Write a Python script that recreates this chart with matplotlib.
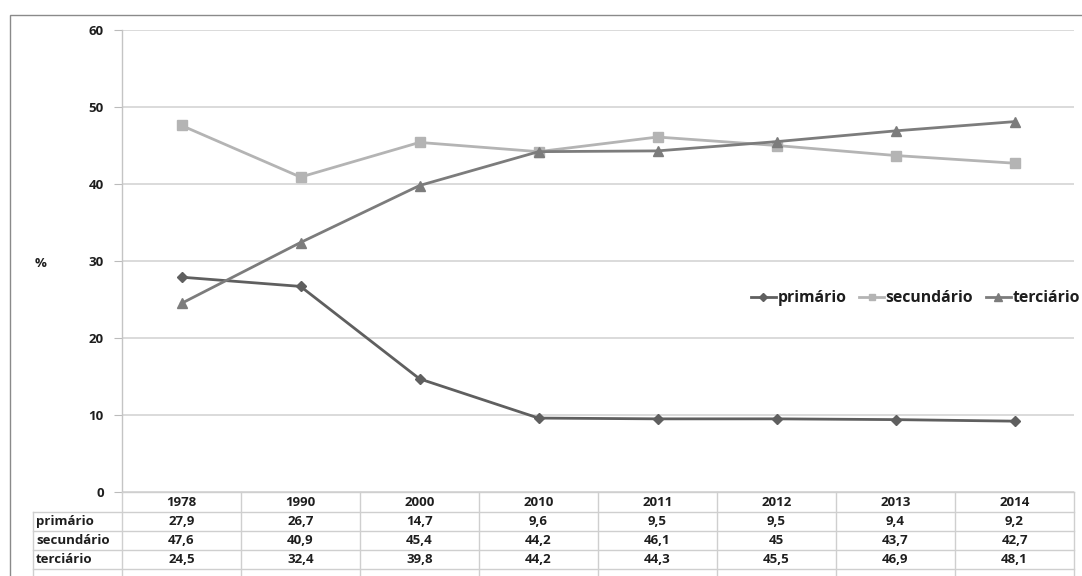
import matplotlib
matplotlib.use("Agg")
import matplotlib.pyplot as plt
from matplotlib.transforms import blended_transform_factory
from matplotlib.lines import Line2D
from matplotlib.patches import Rectangle

years = ["1978", "1990", "2000", "2010", "2011", "2012", "2013", "2014"]
series_names = ["primário", "secundário", "terciário"]
primario = [27.9, 26.7, 14.7, 9.6, 9.5, 9.5, 9.4, 9.2]
secundario = [47.6, 40.9, 45.4, 44.2, 46.1, 45, 43.7, 42.7]
terciario = [24.5, 32.4, 39.8, 44.2, 44.3, 45.5, 46.9, 48.1]
y_ticks = [0, 10, 20, 30, 40, 50, 60]

def fmt(v):
    s = ("%g" % v).replace(".", ",")
    return s

plt.rcParams['font.family'] = ['Open Sans', 'DejaVu Sans']
W, H = 1082, 576
fig = plt.figure(figsize=(W / 100, H / 100), dpi=100)

def fx(px):
    return px / W

def fy(py):
    return 1 - py / H

FS = 9.5
TXT = "#1e1e1e"

ax = fig.add_axes([fx(122), fy(492), fx(1074) - fx(122), fy(30) - fy(492)])
x = list(range(len(years)))
styles = [
    (primario, "#5f5f5f", "D", 5.5),
    (secundario, "#b4b4b4", "s", 6.5),
    (terciario, "#7c7c7c", "^", 7.5),
]
handles = []
for (vals, col, mk, ms), name in zip(styles, series_names):
    h, = ax.plot(x, vals, color=col, marker=mk, markersize=ms, linewidth=2.0,
                 markeredgecolor=col, markerfacecolor=col, label=name, zorder=3)
    handles.append(h)

ax.set_xlim(-0.5, len(years) - 0.5)
ax.set_ylim(0, 60)
ax.set_yticks(y_ticks)
ax.set_yticklabels([str(t) for t in y_ticks], fontsize=FS, fontweight="bold", color=TXT)
ax.tick_params(axis="y", length=6, color="#bbbbbb", pad=7)
ax.tick_params(axis="x", bottom=False, labelbottom=False)
ax.grid(axis="y", color="#d4d4d4", linewidth=1.2)
ax.set_axisbelow(True)
for s in ["top", "right", "bottom"]:
    ax.spines[s].set_visible(False)
ax.spines["left"].set_color("#c4c4c4")
ax.spines["left"].set_linewidth(1.0)

fig.text(fx(41), fy(264), "%", fontsize=FS, fontweight="bold", ha="center", va="center", color=TXT)

# Outer border
fig.patches.append(Rectangle((fx(10), fy(600)), fx(1100) - fx(10), fy(15) - fy(600),
                             transform=fig.transFigure, fill=False, edgecolor="#8a8a8a",
                             linewidth=1.0, zorder=0))

# Data table below axes
trans = blended_transform_factory(ax.transData, fig.transFigure)
row_lines = [492, 512, 531, 550, 569]
grid_col = "#cfcfcf"
x_left_labels = -0.5 - (122 - 33) / 119.0
for i, py in enumerate(row_lines):
    xs = -0.5 if i == 0 else x_left_labels
    fig.add_artist(Line2D([xs, len(years) - 0.5], [fy(py), fy(py)], transform=trans,
                          color=grid_col, linewidth=1.0))
for j in range(len(years) + 1):
    fig.add_artist(Line2D([j - 0.5, j - 0.5], [fy(492), fy(580)], transform=trans,
                          color=grid_col, linewidth=1.0))
fig.add_artist(Line2D([x_left_labels, x_left_labels], [fy(512), fy(580)], transform=trans,
                      color=grid_col, linewidth=1.0))

row_centers = [502, 521.5, 540.5, 559.5]
for j, yr in enumerate(years):
    fig.text(j, fy(row_centers[0]), yr, transform=trans, ha="center", va="center",
             fontsize=FS, fontweight="bold", color=TXT)
for r, (name, vals) in enumerate(zip(series_names, [primario, secundario, terciario])):
    cy = fy(row_centers[r + 1])
    fig.text(x_left_labels + 0.025, cy, name, transform=trans, ha="left", va="center",
             fontsize=FS, fontweight="bold", color=TXT)
    for j, v in enumerate(vals):
        fig.text(j, cy, fmt(v), transform=trans, ha="center", va="center",
                 fontsize=FS, fontweight="bold", color=TXT)

leg = fig.legend(handles=handles, loc="center right", bbox_to_anchor=(fx(1080), fy(298)),
                 ncol=3, frameon=False, prop={"weight": "bold", "size": 11.3},
                 handlelength=1.6, handletextpad=0.1, columnspacing=0.8, borderaxespad=0,
                 borderpad=0, markerscale=0.75)
for t in leg.get_texts():
    t.set_color(TXT)

fig.savefig("out.png", dpi=100)
